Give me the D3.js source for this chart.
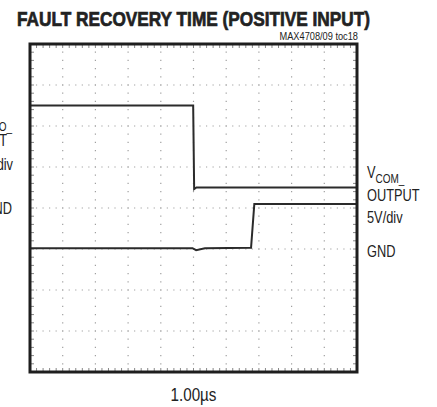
<!DOCTYPE html>
<html>
<head>
<meta charset="utf-8">
<script src="https://cdn.jsdelivr.net/npm/d3@7"></script>
<style>
  body { margin: 0; background: #fff; }
  svg { display: block; }
  text { font-family: "Liberation Sans", Arial, sans-serif; fill: #222; }
</style>
</head>
<body>
<svg id="chart"></svg>
<script>
// scope shot: fault recovery, positive input
// time in us, levels in volts (5V/div)

var width = 437,
    height = 407;

var timeDivs = 10,   // 1.00us / div
    voltDivs = 8,
    voltsPerDiv = 5;

// upper trace (left labels), ground at 4th division
var upperGnd = 4;
var upperTime = [0, 4.99, 5.02, 5.09, 10];
var upperVolts = [12.5, 12.5, 2.3, 2.5, 2.5];

// lower trace VCOM_ OUTPUT, ground at 3rd division
var lowerGnd = 3;
var lowerTime = [0, 4.97, 5.08, 5.35, 6.76, 6.86, 10];
var lowerVolts = [0.1, 0.1, -0.15, 0.1, 0.15, 5.5, 5.5];

var titleText = 'FAULT RECOVERY TIME (POSITIVE INPUT)';
var tocText = 'MAX4708/09 toc18';
var timebaseText = '1.00\u00b5s';

var margin = {left: 30, top: 44, right: 80, bottom: 35};
var plotW = width - margin.left - margin.right,
    plotH = height - margin.top - margin.bottom;

var svg = d3.select('#chart')
            .attr('width', width)
            .attr('height', height);

var x = d3.scaleLinear()
  .domain([0, timeDivs])
  .range([margin.left, margin.left + plotW]);

var y = d3.scaleLinear()
  .domain([0, voltDivs])
  .range([margin.top + plotH, margin.top]);

var minorX = (x(1) - x(0)) / 5,
    minorY = (y(0) - y(1)) / 5;

// graticule, dotted
var grid = svg.append('g').attr('stroke', '#a0a0a0').attr('stroke-width', 1.2);

grid.selectAll('line.vx')
  .data(d3.range(1, timeDivs))
  .enter()
  .append('line')
    .attr('x1', d => x(d))
    .attr('x2', d => x(d))
    .attr('y1', y(voltDivs))
    .attr('y2', y(0))
    .attr('stroke-dasharray', '1.2 ' + (minorY - 1.2))
    .attr('stroke-dashoffset', 0.6);

grid.selectAll('line.hy')
  .data(d3.range(1, voltDivs))
  .enter()
  .append('line')
    .attr('y1', d => y(d))
    .attr('y2', d => y(d))
    .attr('x1', x(0))
    .attr('x2', x(timeDivs))
    .attr('stroke-dasharray', '1.2 ' + (minorX - 1.2))
    .attr('stroke-dashoffset', 0.6);

// small ticks inside the frame
var tickG = svg.append('g').attr('stroke', '#888').attr('stroke-width', 1);
var xMinor = d3.range(1, timeDivs * 5).map(d => d / 5);
var yMinor = d3.range(1, voltDivs * 5).map(d => d / 5);

tickG.selectAll('line.tb')
  .data(xMinor)
  .enter()
  .append('line')
    .attr('x1', d => x(d)).attr('x2', d => x(d))
    .attr('y1', y(0) - 4).attr('y2', y(0) - 1);
tickG.selectAll('line.tt')
  .data(xMinor)
  .enter()
  .append('line')
    .attr('x1', d => x(d)).attr('x2', d => x(d))
    .attr('y1', y(voltDivs) + 1).attr('y2', y(voltDivs) + 4);
tickG.selectAll('line.tl')
  .data(yMinor)
  .enter()
  .append('line')
    .attr('y1', d => y(d)).attr('y2', d => y(d))
    .attr('x1', x(0) + 1).attr('x2', x(0) + 4);
tickG.selectAll('line.tr')
  .data(yMinor)
  .enter()
  .append('line')
    .attr('y1', d => y(d)).attr('y2', d => y(d))
    .attr('x1', x(timeDivs) - 4).attr('x2', x(timeDivs) - 1);

// traces
var line = d3.line()
  .x(d => x(d[0]))
  .y(d => y(d[1]));

var upperPts = upperTime.map((t, i) => [t, upperGnd + upperVolts[i] / voltsPerDiv]);
var lowerPts = lowerTime.map((t, i) => [t, lowerGnd + lowerVolts[i] / voltsPerDiv]);

svg.append('path')
  .datum(upperPts)
  .attr('d', line)
  .attr('fill', 'none')
  .attr('stroke', '#2b2b2b')
  .attr('stroke-width', 2);

svg.append('path')
  .datum(lowerPts)
  .attr('d', line)
  .attr('fill', 'none')
  .attr('stroke', '#2b2b2b')
  .attr('stroke-width', 2);

// frame
svg.append('rect')
  .attr('x', x(0))
  .attr('y', y(voltDivs))
  .attr('width', x(timeDivs) - x(0))
  .attr('height', y(0) - y(voltDivs))
  .attr('fill', 'none')
  .attr('stroke', '#1e1e1e')
  .attr('stroke-width', 3);

// narrow text: no condensed font installed, so squeeze horizontally
function narrowText(px, py, size, anchor, squeeze) {
  return svg.append('g')
    .attr('transform', 'translate(' + px + ',' + py + ') scale(' + squeeze + ',1)')
    .append('text')
      .attr('text-anchor', anchor)
      .style('font-size', size + 'px');
}

narrowText(17, 26, 20.5, 'start', 1)
  .attr('textLength', 353)
  .attr('lengthAdjust', 'spacingAndGlyphs')
  .style('font-weight', 'bold')
  .attr('stroke', '#222')
  .attr('stroke-width', 0.7)
  .text(titleText);

narrowText(358, 40, 10.5, 'end', 0.88).text(tocText);

narrowText(x(timeDivs / 2), 401, 19, 'middle', 0.8).text(timebaseText);

// right labels (VCOM_ output)
var rx = x(timeDivs) + 10;
var vcom = narrowText(rx, 178, 16, 'start', 0.8);
vcom.append('tspan').text('V');
vcom.append('tspan').attr('dy', 5).style('font-size', '12.5px').text('COM_');
narrowText(rx, 200.5, 16, 'start', 0.8).text('OUTPUT');
narrowText(rx, 223, 16, 'start', 0.8).text('5V/div');
narrowText(rx, 257, 16, 'start', 0.8).text('GND');

// left labels, cut by the page edge as in the original
var lv = narrowText(12, 126, 16, 'end', 0.8);
lv.append('tspan').text('V');
lv.append('tspan').attr('dy', 5).style('font-size', '12.5px').text('NO_');
narrowText(7, 146, 16, 'end', 0.8).text('OUTPUT');
narrowText(13, 170, 16, 'end', 0.8).text('5V/div');
narrowText(12, 214, 16, 'end', 0.8).text('GND');
</script>
</body>
</html>
